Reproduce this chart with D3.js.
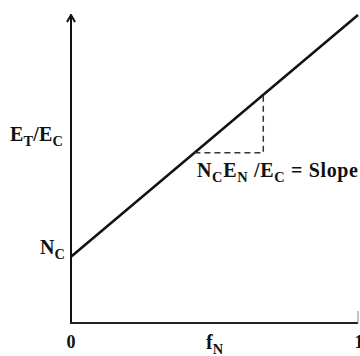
<!doctype html>
<html lang="en">
<head>
    <meta charset="utf-8">
    <title>E_T/E_C vs f_N</title>
    <script src="https://cdnjs.cloudflare.com/ajax/libs/d3/7.8.5/d3.min.js"></script>
    <style>
        body { margin: 0; background: #fff; }
        #chart text {
            font-family: "Liberation Serif", "Times New Roman", serif;
            font-weight: bold;
            fill: #111;
        }
    </style>
</head>
<body>
    <div id="chart"></div>
    <script>
        // data
        var fN = [0, 1];
        var ratio = [0.215, 1.0];          // E_T/E_C at f_N = 0 (N_C) and f_N = 1
        var slopeRun = [0.43, 0.67];       // f_N range of the slope triangle
        var xTicks = [0, 1];

        var width = 360, height = 356;
        var x = d3.scaleLinear().domain([0, 1]).range([71, 358]);
        var y = d3.scaleLinear().domain([0, 1]).range([323, 15]);

        var svg = d3.select("#chart")
            .append("svg")
            .attr("width", width)
            .attr("height", height);

        // arrow head for the y axis (drawn along +x, oriented by the line)
        svg.append("defs").append("marker")
            .attr("id", "arrow")
            .attr("viewBox", "0 0 10 10")
            .attr("refX", 9).attr("refY", 5)
            .attr("markerWidth", 10).attr("markerHeight", 10)
            .attr("markerUnits", "userSpaceOnUse")
            .attr("orient", "auto")
            .append("path")
            .attr("d", "M2,1 L9,5 L2,9")
            .attr("fill", "none")
            .attr("stroke", "#111")
            .attr("stroke-width", 2);

        // axes
        svg.append("line")
            .attr("x1", x(0)).attr("y1", y(0))
            .attr("x2", x(0)).attr("y2", y(1))
            .attr("stroke", "#111").attr("stroke-width", 2)
            .attr("marker-end", "url(#arrow)");

        svg.append("line")
            .attr("x1", x(0) - 1).attr("y1", y(0))
            .attr("x2", x(1)).attr("y2", y(0))
            .attr("stroke", "#222").attr("stroke-width", 2);

        // small tick at f_N = 1
        svg.append("line")
            .attr("x1", x(1)).attr("y1", y(0))
            .attr("x2", x(1)).attr("y2", y(0) - 12)
            .attr("stroke", "#888").attr("stroke-width", 1);

        // the line
        var line = d3.line()
            .x(function(d, i) { return x(fN[i]); })
            .y(function(d) { return y(d); });

        svg.append("path")
            .datum(ratio)
            .attr("d", line)
            .attr("fill", "none")
            .attr("stroke", "#111")
            .attr("stroke-width", 2.5);

        // slope triangle
        var at = function(f) { return ratio[0] + (ratio[1] - ratio[0]) * f; };
        svg.append("path")
            .attr("d", "M" + x(slopeRun[0]) + "," + y(at(slopeRun[0])) +
                       "H" + x(slopeRun[1]) +
                       "V" + y(at(slopeRun[1])))
            .attr("fill", "none")
            .attr("stroke", "#333")
            .attr("stroke-width", 1.5)
            .attr("stroke-dasharray", "6,4");

        // tick labels on x axis
        svg.selectAll("text.xtick")
            .data(xTicks)
            .enter()
            .append("text")
            .attr("class", "xtick")
            .attr("x", function(d) { return x(d) + (d === 1 ? 1 : 0); })
            .attr("y", 348)
            .attr("text-anchor", "middle")
            .style("font-size", "18px")
            .text(function(d) { return d; });

        // helper for text with subscripts: parts = [[text, isSub], ...]
        function label(px, py, parts, size, len) {
            var t = svg.append("text")
                .attr("x", px).attr("y", py)
                .style("font-size", size + "px");
            if (len) t.attr("textLength", len).attr("lengthAdjust", "spacing");
            var down = false;
            parts.forEach(function(p) {
                var s = t.append("tspan").text(p[0]);
                if (p[1] && !down) { s.attr("dy", 5).style("font-size", (size * 0.72) + "px"); down = true; }
                else if (p[1]) { s.style("font-size", (size * 0.72) + "px"); }
                else if (down) { s.attr("dy", -5); down = false; }
            });
            return t;
        }

        label(10, 141, [["E", 0], ["T", 1], ["/E", 0], ["C", 1]], 20, 53);
        label(40, 254, [["N", 0], ["C", 1]], 20);
        label(206, 349, [["f", 0], ["N", 1]], 20);
        label(197, 177, [["N", 0], ["C", 1], ["E", 0], ["N", 1], [" /E", 0], ["C", 1], [" = Slope", 0]], 20, 161);
    </script>
</body>
</html>
